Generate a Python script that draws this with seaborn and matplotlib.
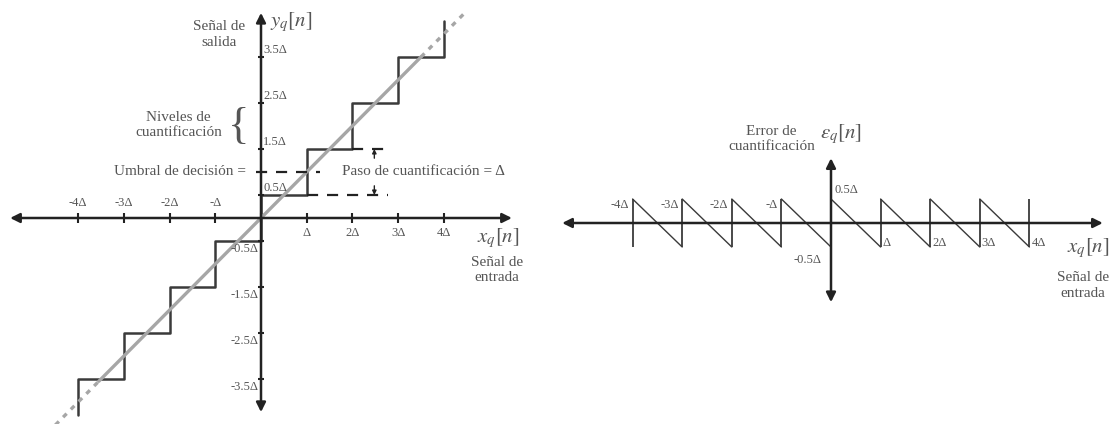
import matplotlib
matplotlib.use('Agg')
import matplotlib.pyplot as plt
import seaborn as sns
import pandas as pd

sns.set_theme(style='white')
plt.rcParams['font.family'] = ['Liberation Serif', 'DejaVu Serif']
plt.rcParams['mathtext.fontset'] = 'stix'

# quantizer data, in units of delta
step_edges = [-4, -3, -2, -1, 0, 1, 2, 3, 4]
step_levels = [-3.5, -2.5, -1.5, -0.5, 0.5, 1.5, 2.5, 3.5]
stair_end = 4.28
diag_solid = [-3.55, 3.5]
diag_low = [-4.55, -3.55]
diag_high = [3.5, 4.5]
x_ticks_neg = [-4, -3, -2, -1]
x_labels_neg = ['-4Δ', '-3Δ', '-2Δ', '-Δ']
x_ticks_pos = [1, 2, 3, 4]
x_labels_pos = ['Δ', '2Δ', '3Δ', '4Δ']
y_ticks_pos = [0.5, 1.5, 2.5, 3.5]
y_labels_pos = ['0.5Δ', '1.5Δ', '2.5Δ', '3.5Δ']
y_ticks_neg = [-0.5, -1.5, -2.5, -3.5]
y_labels_neg = ['-0.5Δ', '-1.5Δ', '-2.5Δ', '-3.5Δ']
decision_level = 1.0
err_max = 0.5

AX = '#222222'
STEP = '#3a3a3a'
DIAG = '#a6a6a6'
TXT = '#555555'
LAB = 11

fig = plt.figure(figsize=(11.15, 4.24), dpi=100)
ax1 = fig.add_axes([0, 0, 535 / 1115, 1])
ax2 = fig.add_axes([540 / 1115, 0, 575 / 1115, 1])
ax1.set_xlim(-261 / 45.7, (535 - 261) / 45.7)
ax1.set_ylim((218 - 424) / 46, 218 / 46)
ax2.set_xlim((540 - 831) / 49.6, (1115 - 831) / 49.6)
ax2.set_ylim((223 - 424) / 48, 223 / 48)
for ax in (ax1, ax2):
    ax.axis('off')


def arrow(ax, p0, p1, both=True, lw=1.8, ms=14, color=AX):
    style = '<|-|>' if both else '-|>'
    ax.annotate('', xy=p1, xytext=p0,
                arrowprops=dict(arrowstyle=style, color=color, lw=lw,
                                mutation_scale=ms, shrinkA=0, shrinkB=0))


# ---------------- left: quantizer characteristic ----------------
stair_x = [step_edges[0]]
stair_y = [-stair_end]
for i, lvl in enumerate(step_levels):
    stair_x += [step_edges[i], step_edges[i + 1]]
    stair_y += [lvl, lvl]
stair_x.append(step_edges[-1])
stair_y.append(stair_end)
stair = pd.DataFrame({'x': stair_x, 'y': stair_y})
sns.lineplot(data=stair, x='x', y='y', estimator=None, sort=False,
             color=STEP, lw=1.8, ax=ax1)

sns.lineplot(x=diag_solid, y=diag_solid, estimator=None, color=DIAG, lw=2.4, ax=ax1)
for seg in (diag_low, diag_high):
    sns.lineplot(x=seg, y=seg, estimator=None, color=DIAG, lw=2.4,
                 linestyle=(0, (1.5, 1.8)), ax=ax1)

arrow(ax1, (-5.49, 0), (5.49, 0))
arrow(ax1, (0, -4.22), (0, 4.46))
ax1.vlines(step_edges, -0.1, 0.1, color=AX, lw=1.5)
ax1.hlines(y_ticks_pos + y_ticks_neg, -0.07, 0.07, color=AX, lw=1.5)

for x, lab in zip(x_ticks_neg, x_labels_neg):
    ax1.text(x, 0.33, lab, ha='center', va='center', fontsize=9, color=TXT)
for x, lab in zip(x_ticks_pos, x_labels_pos):
    ax1.text(x, -0.33, lab, ha='center', va='center', fontsize=9, color=TXT)
for y, lab in zip(y_ticks_pos, y_labels_pos):
    ax1.text(0.05, y + 0.15, lab, ha='left', va='center', fontsize=9, color=TXT)
for y, lab in zip(y_ticks_neg, y_labels_neg):
    ax1.text(-0.05, y - 0.17, lab, ha='right', va='center', fontsize=9, color=TXT)

# decision threshold and quantization step
dash = (0, (5, 4))
ax1.plot([-0.1, 1.3], [decision_level] * 2, color=AX, lw=1.6, linestyle=dash)
ax1.plot([step_edges[6], 2.77], [step_levels[5]] * 2, color=AX, lw=1.6, linestyle=dash)
ax1.plot([step_edges[5], 2.77], [step_levels[4]] * 2, color=AX, lw=1.6, linestyle=dash)
arrow(ax1, (2.48, 1.3), (2.48, step_levels[5]), both=False, lw=1.0, ms=6)
arrow(ax1, (2.48, 0.7), (2.48, step_levels[4]), both=False, lw=1.0, ms=6)
ax1.text(-0.33, decision_level, 'Umbral de decisión =', ha='right', va='center',
         fontsize=LAB, color=TXT)
ax1.text(1.78, decision_level, 'Paso de cuantificación = Δ', ha='left', va='center',
         fontsize=LAB, color=TXT)

ax1.text(-1.8, 2.02, 'Niveles de\ncuantificación', ha='center', va='center',
         fontsize=LAB, color=TXT, linespacing=1.25)
ax1.text(-0.5, 1.98, '{', ha='center', va='center', fontsize=32, color=TXT)
ax1.text(-0.92, 4.0, 'Señal de\nsalida', ha='center', va='center',
         fontsize=LAB, color=TXT, linespacing=1.3)
ax1.text(0.66, 4.26, r'$y_q[n]$', ha='center', va='center', fontsize=15, color=TXT)
ax1.text(5.19, -0.43, r'$x_q[n]$', ha='center', va='center', fontsize=15, color=TXT)
ax1.text(5.17, -1.13, 'Señal de\nentrada', ha='center', va='center',
         fontsize=LAB, color=TXT, linespacing=1.25)

# ---------------- right: quantization error ----------------
rows = []
for i in range(len(step_edges) - 1):
    rows.append((step_edges[i], err_max, i))
    rows.append((step_edges[i + 1], -err_max, i))
saw = pd.DataFrame(rows, columns=['x', 'e', 'seg'])
sns.lineplot(data=saw, x='x', y='e', units='seg', estimator=None, sort=False,
             color=STEP, lw=1.0, legend=False, ax=ax2)
ax2.vlines(step_edges, -err_max, err_max, color=STEP, lw=1.3)

arrow(ax2, (-5.42, 0), (5.48, 0))
arrow(ax2, (0, -1.65), (0, 1.35))

for x, lab in zip(x_ticks_neg, x_labels_neg):
    ax2.text(x - 0.07, 0.37, lab, ha='right', va='center', fontsize=9, color=TXT)
for x, lab in zip(x_ticks_pos, x_labels_pos):
    ax2.text(x + 0.04, -0.42, lab, ha='left', va='center', fontsize=9, color=TXT)
ax2.text(0.08, 0.69, '0.5Δ', ha='left', va='center', fontsize=9, color=TXT)
ax2.text(-0.48, -0.77, '-0.5Δ', ha='center', va='center', fontsize=9, color=TXT)

ax2.text(0.2, 1.85, r'$\epsilon_q[n]$', ha='center', va='center', fontsize=15, color=TXT)
ax2.text(-1.2, 1.75, 'Error de\ncuantificación', ha='center', va='center',
         fontsize=LAB, color=TXT, linespacing=1.2)
ax2.text(5.18, -0.52, r'$x_q[n]$', ha='center', va='center', fontsize=15, color=TXT)
ax2.text(5.08, -1.31, 'Señal de\nentrada', ha='center', va='center',
         fontsize=LAB, color=TXT, linespacing=1.3)

fig.savefig('out.png', dpi=100, facecolor='white')
